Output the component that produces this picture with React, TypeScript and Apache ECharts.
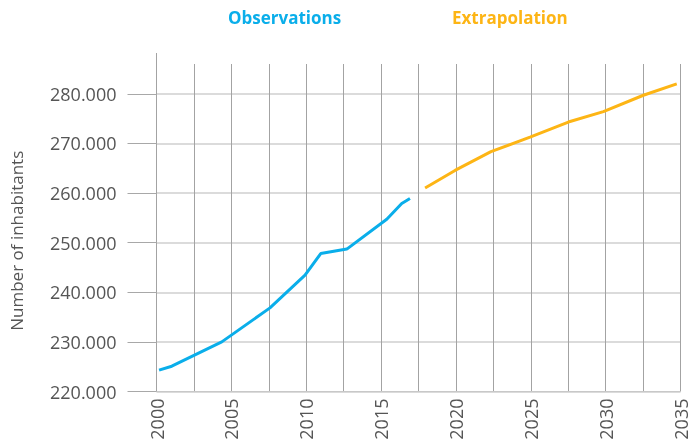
import React, { useEffect, useRef } from "react";
import * as echarts from "echarts";

const observationYears = [2000.17, 2001.02, 2004.36, 2007.58, 2009.92, 2010.97, 2012.71, 2015.38, 2016.38, 2016.93];
const observationValues = [224300, 225100, 230000, 236850, 243450, 247800, 248700, 254700, 257900, 258900];

const extrapolationYears = [2017.94, 2019.94, 2022.34, 2024.95, 2027.51, 2029.85, 2032.52, 2034.75];
const extrapolationValues = [261000, 264550, 268350, 271250, 274300, 276400, 279700, 282000];

const yTickValues = [220000, 230000, 240000, 250000, 260000, 270000, 280000];

const BLUE = "#0aaeea";
const ORANGE = "#fdb515";

const fmt = (v: number) => {
  const s = String(Math.round(v));
  return s.replace(/\B(?=(\d{3})+(?!\d))/g, ".");
};

export default function App() {
  const ref = useRef<HTMLDivElement>(null);
  useEffect(() => {
    if (!ref.current) return;
    const chart = echarts.init(ref.current, null, { renderer: "svg" });
    const obs = observationYears.map((x, i) => [x, observationValues[i]]);
    const ext = extrapolationYears.map((x, i) => [x, extrapolationValues[i]]);
    chart.setOption({
      animation: false,
      textStyle: { fontFamily: "Open Sans" },
      legend: [
        {
          data: [{ name: "Observations", textStyle: { color: BLUE } }],
          left: 218,
          top: 4,
          itemWidth: 0,
          itemHeight: 0,
          icon: "circle",
          textStyle: { fontSize: 17, fontWeight: "bold", fontFamily: "Open Sans" },
          selectedMode: false,
        },
        {
          data: [{ name: "Extrapolation", textStyle: { color: ORANGE } }],
          left: 442,
          top: 4,
          itemWidth: 0,
          itemHeight: 0,
          icon: "circle",
          textStyle: { fontSize: 17, fontWeight: "bold", fontFamily: "Open Sans" },
          selectedMode: false,
        },
      ],
      grid: { left: 156.5, right: 18.5, top: 64, bottom: 55.5, outerBoundsMode: "none", containLabel: false },
      xAxis: {
        type: "value",
        min: 2000,
        max: 2035,
        interval: 2.5,
        axisLine: { show: true, lineStyle: { color: "#c8c8c8", width: 1 } },
        axisTick: { show: false },
        axisLabel: {
          rotate: 90,
          margin: 7,
          fontSize: 18,
          color: "#555",
          fontFamily: "Open Sans",
          formatter: (v: number) => (v % 5 === 0 ? String(v) : ""),
        },
        splitLine: { show: true, lineStyle: { color: "#a3a3a3", width: 1 } },
      },
      yAxis: {
        type: "value",
        min: 220000,
        max: 286000,
        interval: 10000,
        name: "Number of inhabitants",
        nameLocation: "middle",
        nameGap: 132,
        nameTextStyle: { fontSize: 17, color: "#555", fontFamily: "Open Sans", padding: [0, 26, 0, 0] },
        axisLine: { show: true, lineStyle: { color: "#a3a3a3", width: 1 } },
        axisTick: { show: true, length: 29, customValues: yTickValues, lineStyle: { color: "#a8a8a8" } },
        axisLabel: {
          customValues: yTickValues,
          margin: 40,
          fontSize: 18,
          color: "#555",
          fontFamily: "Open Sans",
          formatter: (v: number) => fmt(v),
        },
        splitLine: { show: true, lineStyle: { color: "#cfcfcf", width: 1.5 } },
      },
      graphic: [
        {
          type: "line",
          shape: { x1: 156.5, y1: 53, x2: 156.5, y2: 64 },
          style: { stroke: "#a3a3a3", lineWidth: 1 },
          silent: true,
        },
      ],
      series: [
        {
          name: "Observations",
          type: "line",
          data: obs,
          showSymbol: false,
          symbol: "none",
          lineStyle: { color: BLUE, width: 3 },
          itemStyle: { color: BLUE },
          z: 3,
        },
        {
          name: "Extrapolation",
          type: "line",
          data: ext,
          showSymbol: false,
          symbol: "none",
          lineStyle: { color: ORANGE, width: 3 },
          itemStyle: { color: ORANGE },
          z: 3,
        },
      ],
    });
    return () => chart.dispose();
  }, []);
  return <div ref={ref} style={{ width: 699, height: 447, position: "fixed", left: 0, top: 0 }} />;
}
